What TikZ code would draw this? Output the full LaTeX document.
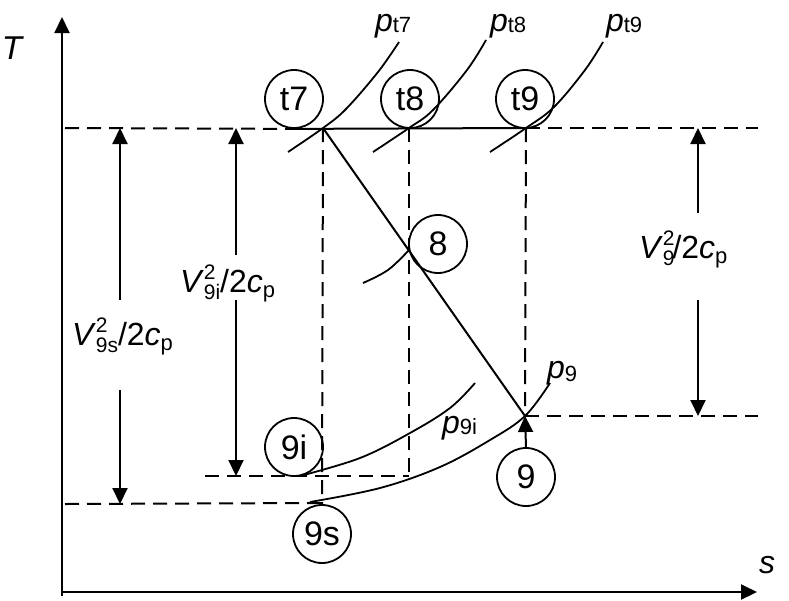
\documentclass[tikz,border=0pt]{standalone}
\usepackage{fontspec}
\setmainfont{Liberation Sans}
\usetikzlibrary{arrows.meta}
\newcommand\SupSub[2]{\rlap{\raisebox{13pt}{\fontsize{21}{21}\selectfont #1}}\raisebox{-7pt}{\fontsize{21}{21}\selectfont #2}}
\newcommand\SubLow[2]{\raisebox{-#1}{\fontsize{22}{22}\selectfont #2}}
\begin{document}
\begin{tikzpicture}[x=1pt,y=-1pt,line width=2pt,
  state/.style={draw,circle,minimum size=58pt,inner sep=0pt,line width=1.8pt,font=\fontsize{34}{34}\selectfont},
  lbl/.style={font=\fontsize{32}{32}\selectfont,inner sep=0pt},
  dsh/.style={dash pattern=on 14pt off 8pt},
  arr/.style={-{Triangle[length=16pt,width=15pt]}},
  curve/.style={line width=1.8pt}
]
\useasboundingbox (0,0) rectangle (789,600);
% axes
\coordinate (Obot) at (62,596);
\coordinate (O) at (62,592);
\coordinate (Ytop) at (62,17);
\coordinate (Xend) at (757,592);
\draw[arr] (Obot) -- (Ytop);
\draw[arr] (O) -- (Xend);
\node[lbl,font=\fontsize{33}{33}\selectfont\itshape] (Tlab) at (12,48) {T};
\node[lbl,font=\fontsize{32}{32}\selectfont\itshape] (slab) at (767,565) {s};
% state points
\coordinate (p7) at (323,128);
\coordinate (p8t) at (409,128);
\coordinate (p9t) at (526,128);
\coordinate (p8) at (409,250);
\coordinate (p9) at (525,416);
\coordinate (p9i) at (300,476);
\coordinate (p9s) at (322,503);
\coordinate (c8i) at (409,476);
\coordinate (Ltop) at (65,128);
\coordinate (Rtop) at (758,128);
\coordinate (R9) at (758,416);
\coordinate (L9i) at (205,476);
\coordinate (L9s) at (65,504);
% circles
\node[state] (t7) at (294,99) {t7};
\node[state] (t8) at (410,99) {t8};
\node[state] (t9) at (525,99) {t9};
\node[state] (n8) at (438,244) {8};
\node[state] (n9i) at (294,447) {9i};
\node[state] (n9s) at (322,534) {9s};
\node[state] (n9) at (526,477) {9};
% horizontal / vertical lines
\draw[dsh] (Ltop) -- (t7.south);
\draw (t7.south) -- (p9t);
\draw[dsh] (p9t) -- (Rtop);
\draw[dsh] (p7) -- (n9s.north);
\draw[dsh] (p8t) -- (c8i);
\draw[dsh] (L9i) -- (c8i);
\draw[dsh] (p9t) -- (p9);
\draw[dsh] (p9) -- (R9);
\draw[dsh] (L9s) -- (p9s);
% expansion line
\draw (p7) -- (p9);
\draw[arr] (n9.north) -- (p9);
% isobars
\draw[curve] plot[smooth,tension=0.6] coordinates {(288,152) (p7) (346,109) (378,72) (399,42)};
\draw[curve] plot[smooth,tension=0.6] coordinates {(373,152) (p8t) (433,110) (467,70) (486,40)};
\draw[curve] plot[smooth,tension=0.6] coordinates {(490,152) (p9t) (554,107) (585,70) (603,42)};
\draw[curve] plot[smooth,tension=0.6] coordinates {(363,283) (388,270) (p8)};
\draw[curve] plot[smooth,tension=0.6] coordinates {(p9i) (360,458) (410,433) (450,408) (475,383)};
\draw[curve] plot[smooth,tension=0.6] coordinates {(310,502) (380,488) (440,467) (490,440) (p9) (550,383)};
% pressure labels
\node[lbl,anchor=base west] (lpt7) at (374,31) {\textit{p}\SubLow{1pt}{t7}};
\node[lbl,anchor=base west] (lpt8) at (489,31) {\textit{p}\SubLow{1pt}{t8}};
\node[lbl,anchor=base west] (lpt9) at (605,31) {\textit{p}\SubLow{1pt}{t9}};
\node[lbl,anchor=base west] (lp9) at (546,378) {\textit{p}\SubLow{3pt}{9}};
\node[lbl,anchor=base west] (lp9i) at (441,433) {\textit{p}\SubLow{1pt}{9i}};
% velocity labels
\node[lbl,anchor=base west] (V9s) at (71,345) {\textit{V}\SupSub{2}{9s}/2\textit{c}\SubLow{5pt}{p}};
\node[lbl,anchor=base west] (V9i) at (179,292) {\textit{V}\SupSub{2}{9i}/2\textit{c}\SubLow{5pt}{p}};
\node[lbl,anchor=base west] (V9) at (638,258) {\textit{V}\SupSub{2}{9}\kern-2pt/2\textit{c}\SubLow{5pt}{p}};
% velocity arrows
\coordinate (a9sT) at (120,128); \coordinate (a9sA) at (120,300);
\coordinate (a9sB) at (120,390); \coordinate (a9sE) at (120,504);
\coordinate (a9iT) at (236,128); \coordinate (a9iA) at (236,255);
\coordinate (a9iB) at (236,300); \coordinate (a9iE) at (236,476);
\coordinate (a9T) at (698,128); \coordinate (a9A) at (698,213);
\coordinate (a9B) at (698,300); \coordinate (a9E) at (698,416);
\draw[arr] (a9sA) -- (a9sT);
\draw[arr] (a9sB) -- (a9sE);
\draw[arr] (a9iA) -- (a9iT);
\draw[arr] (a9iB) -- (a9iE);
\draw[arr] (a9A) -- (a9T);
\draw[arr] (a9B) -- (a9E);
\end{tikzpicture}
\end{document}
